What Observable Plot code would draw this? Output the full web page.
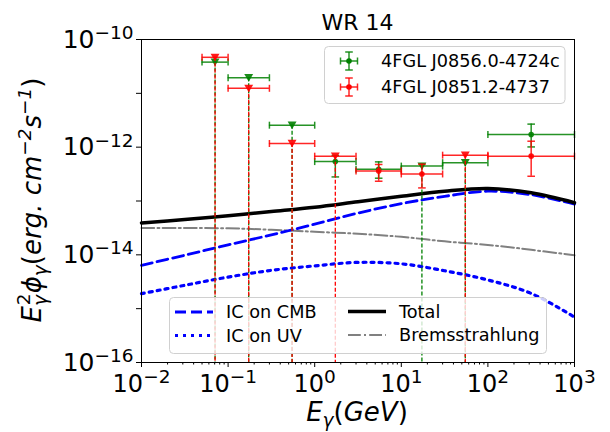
<!DOCTYPE html>
<html><head><meta charset="utf-8">
<script src="https://cdn.jsdelivr.net/npm/d3@7"></script>
<script src="https://cdn.jsdelivr.net/npm/@observablehq/plot@0.6"></script>
<style>
body{margin:0;background:#fff;}
#chart svg{font-family:"DejaVu Sans",sans-serif;}
</style>
</head><body><div id="chart"></div>
<script>
// ---------- data ----------
// Fermi-LAT energy bins (GeV)
const binLo     = [0.05, 0.1, 0.3, 1, 3, 10, 30, 100];
const binHi     = [0.1, 0.3, 1, 3, 10, 30, 100, 1000];
const binCenter = [0.0707, 0.173, 0.548, 1.73, 5.48, 17.3, 54.8, 316];

// 4FGL J0856.0-4724c (green)
const greenFlux = [3.8e-11, 1.95e-11, 2.56e-12, 5.4e-13, 3.9e-13, 4.45e-13, 5.15e-13, 1.72e-12];
const greenLow  = [null, null, null, 2.8e-13, 2.65e-13, null, null, 1.01e-12];
const greenHigh = [null, null, null, 7.0e-13, 5.33e-13, null, null, 2.68e-12];
const greenUL   = [true, true, true, false, false, true, true, false];

// 4FGL J0851.2-4737 (red)
const redFlux = [4.67e-11, 1.24e-11, 1.17e-12, 6.8e-13, 3.62e-13, 3.18e-13, 7.1e-13, 6.81e-13];
const redLow  = [null, null, null, null, 2.33e-13, 1.75e-13, null, 2.88e-13];
const redHigh = [null, null, null, null, 4.77e-13, 4.83e-13, null, 1.29e-12];
const redUL   = [true, true, true, true, false, false, true, false];

// model curves
const modelE     = [0.01, 0.0316, 0.1, 0.316, 1, 3.16, 10, 31.6, 100, 316, 1000];
const icCMB      = [6.38e-15, 9.84e-15, 1.53e-14, 2.35e-14, 3.71e-14, 5.97e-14, 8.93e-14, 1.22e-13, 1.52e-13, 1.31e-13, 8.71e-14];
const icUV       = [1.90e-15, 2.72e-15, 3.86e-15, 5.15e-15, 6.24e-15, 7.24e-15, 6.81e-15, 5.06e-15, 3.41e-15, 1.92e-15, 6.97e-16];
const brems      = [3.16e-14, 3.15e-14, 3.11e-14, 2.92e-14, 2.68e-14, 2.46e-14, 2.16e-14, 1.78e-14, 1.53e-14, 1.24e-14, 9.8e-15];
const total      = [3.91e-14, 4.54e-14, 5.32e-14, 6.37e-14, 7.66e-14, 9.68e-14, 1.22e-13, 1.52e-13, 1.71e-13, 1.42e-13, 9.3e-14];

// axis ticks
const xDecades = [1e-2, 1e-1, 1e0, 1e1, 1e2, 1e3];
const yDecades = [1e-16, 1e-15, 1e-14, 1e-13, 1e-12, 1e-11, 1e-10];
const yLabeled = [-16, -14, -12, -10];

const titleText = "WR 14";
const legendSources = ["4FGL J0856.0-4724c", "4FGL J0851.2-4737"];
const legendModels = ["IC on CMB", "IC on UV", "Total", "Bremsstrahlung"];

// ---------- tables ----------
const GREEN = "#008000", RED = "#ff0000", BLUE = "#0000ff", GRAY = "#808080";
function rowsFor(flux, lo, hi, ul, color) {
  return binCenter.map((c, i) => ({x: c, xlo: binLo[i], xhi: binHi[i], y: flux[i], ylo: lo[i], yhi: hi[i], ul: ul[i], color}));
}
const greenRows = rowsFor(greenFlux, greenLow, greenHigh, greenUL, GREEN);
const redRows = rowsFor(redFlux, redLow, redHigh, redUL, RED);
const model = modelE.map((e, i) => ({e, cmb: icCMB[i], uv: icUV[i], br: brems[i], tot: total[i]}));
const minorX = xDecades.slice(0, -1).flatMap(d => [2,3,4,5,6,7,8,9].map(m => m * d));
const yMin = yDecades[0];

// custom symbols
const triDown = {draw(ctx, size) { const r = Math.sqrt(size / Math.PI); ctx.moveTo(-1.35*r, -1.1*r); ctx.lineTo(1.35*r, -1.1*r); ctx.lineTo(0, 1.2*r); ctx.closePath(); }};
const vCap = {draw(ctx, size) { const r = Math.sqrt(size / Math.PI); ctx.moveTo(0, -r); ctx.lineTo(0, r); }};
const hCap = {draw(ctx, size) { const r = Math.sqrt(size / Math.PI); ctx.moveTo(-r, 0); ctx.lineTo(r, 0); }};

function seriesMarks(rows) {
  const det = rows.filter(d => !d.ul);
  const ul = rows.filter(d => d.ul);
  const c = rows[0].color;
  const op = 0.85;
  return [
    Plot.ruleX(ul, {x: "x", y1: "y", y2: () => yMin, stroke: c, strokeWidth: 1.3, strokeDasharray: "4,2"}),
    Plot.ruleY(rows, {y: "y", x1: "xlo", x2: "xhi", stroke: c, strokeWidth: 1.5, strokeOpacity: op}),
    Plot.dot(rows, {x: "xlo", y: "y", symbol: vCap, r: 3.5, stroke: c, fill: "none", strokeWidth: 1.5, strokeOpacity: op}),
    Plot.dot(rows, {x: "xhi", y: "y", symbol: vCap, r: 3.5, stroke: c, fill: "none", strokeWidth: 1.5, strokeOpacity: op}),
    Plot.ruleX(det, {x: "x", y1: "ylo", y2: "yhi", stroke: c, strokeWidth: 1.5, strokeOpacity: op}),
    Plot.dot(det, {x: "x", y: "ylo", symbol: hCap, r: 3.8, stroke: c, fill: "none", strokeWidth: 1.5, strokeOpacity: op}),
    Plot.dot(det, {x: "x", y: "yhi", symbol: hCap, r: 3.8, stroke: c, fill: "none", strokeWidth: 1.5, strokeOpacity: op}),
    Plot.dot(ul, {x: "x", y: "y", symbol: triDown, r: 3.3, fill: c, stroke: "none", fillOpacity: 0.9}),
    Plot.dot(det, {x: "x", y: "y", r: 2.8, fill: c, stroke: "none", fillOpacity: 0.9})
  ];
}

const supFmt = e => "10^" + (e < 0 ? "\u2212" + (-e) : String(e));

const plot = Plot.plot({
  width: 610, height: 432,
  marginLeft: 141, marginRight: 36, marginTop: 39, marginBottom: 70,
  style: {fontFamily: "DejaVu Sans", background: "white", color: "black"},
  x: {type: "log", domain: [xDecades[0], xDecades[xDecades.length-1]]},
  y: {type: "log", domain: [yDecades[0], yDecades[yDecades.length-1]]},
  marks: [
    Plot.line(model, {x: "e", y: "br", stroke: GRAY, strokeWidth: 2, strokeDasharray: "12.8,3.2,2,3.2", curve: "catmull-rom"}),
    Plot.line(model, {x: "e", y: "uv", stroke: BLUE, strokeWidth: 3.2, strokeDasharray: "3,5", curve: "catmull-rom"}),
    Plot.line(model, {x: "e", y: "cmb", stroke: BLUE, strokeWidth: 2.8, strokeDasharray: "11,5", curve: "catmull-rom"}),
    Plot.line(model, {x: "e", y: "tot", stroke: "black", strokeWidth: 3.5, curve: "catmull-rom"}),
    ...seriesMarks(greenRows),
    ...seriesMarks(redRows),
    Plot.frame({stroke: "black", strokeWidth: 1}),
    Plot.axisX({ticks: minorX, tickSize: 2.5, tickFormat: () => "", label: null}),
    Plot.axisX({ticks: xDecades, tickSize: 5, tickPadding: 7, fontSize: 24, label: null,
      tickFormat: d => supFmt(Math.round(Math.log10(d)))}),
    Plot.axisY({ticks: yDecades, tickSize: 5, tickPadding: 3, fontSize: 25, label: null,
      tickFormat: d => { const e = Math.round(Math.log10(d)); return yLabeled.includes(e) ? supFmt(e) : ""; }})
  ]
});
document.getElementById("chart").appendChild(plot);

const svg = d3.select(plot);
// superscripts in tick labels
svg.selectAll("text").each(function() {
  const t = this.textContent;
  if (!t.includes("^")) return;
  const [b, e] = t.split("^");
  const s = d3.select(this);
  s.text("");
  s.append("tspan").text(b);
  s.append("tspan").attr("font-size", "18.5px").attr("dy", "-8.5px").text(e);
});

// title
svg.append("text").attr("x", 357.5).attr("y", 30).attr("text-anchor", "middle")
  .attr("font-size", 22).attr("fill", "black").text(titleText);

// x label
const xl = svg.append("text").attr("x", 357).attr("y", 421).attr("text-anchor", "middle").attr("font-size", 26).attr("fill", "black");
xl.append("tspan").attr("font-style", "italic").text("E");
xl.append("tspan").attr("font-style", "italic").attr("font-size", 18.5).attr("dy", 6).text("γ");
xl.append("tspan").attr("dy", -6).text("(");
xl.append("tspan").attr("font-style", "italic").text("GeV");
xl.append("tspan").text(")");

// y label
const yl = svg.append("text").attr("transform", "translate(41,200) rotate(-90)").attr("text-anchor", "middle").attr("font-size", 26).attr("fill", "black");
yl.append("tspan").attr("font-style", "italic").text("E");
yl.append("tspan").attr("font-style", "italic").attr("font-size", 18.5).attr("dy", 6).text("γ");
yl.append("tspan").attr("font-size", 18.5).attr("dx", -10).attr("dy", -17).text("2");
yl.append("tspan").attr("font-style", "italic").attr("dy", 11).text("ϕ");
yl.append("tspan").attr("font-style", "italic").attr("font-size", 18.5).attr("dy", 6).text("γ");
yl.append("tspan").attr("dy", -6).text("(");
yl.append("tspan").attr("font-style", "italic").text("erg. cm");
yl.append("tspan").attr("font-style", "italic").attr("font-size", 18.5).attr("dy", -10).text("\u22122");
yl.append("tspan").attr("font-style", "italic").attr("dy", 10).text("s");
yl.append("tspan").attr("font-style", "italic").attr("font-size", 18.5).attr("dy", -10).text("\u22121");
yl.append("tspan").attr("dy", 10).text(")");

// legend 1 (sources)
const lg1 = svg.append("g").attr("text-anchor", "start");
lg1.append("rect").attr("x", 324.5).attr("y", 46.5).attr("width", 240.5).attr("height", 57).attr("rx", 4)
  .attr("fill", "white").attr("fill-opacity", 0.8).attr("stroke", "#d0d0d0").attr("stroke-width", 1);
[[GREEN, 61, legendSources[0]], [RED, 87, legendSources[1]]].forEach(([c, cy, label]) => {
  const cx = 349;
  const g = lg1.append("g").attr("stroke", c).attr("stroke-width", 1.5).attr("stroke-opacity", 0.85);
  g.append("line").attr("x1", cx - 8.5).attr("x2", cx + 8.5).attr("y1", cy).attr("y2", cy);
  g.append("line").attr("x1", cx - 8.5).attr("x2", cx - 8.5).attr("y1", cy - 3.5).attr("y2", cy + 3.5);
  g.append("line").attr("x1", cx + 8.5).attr("x2", cx + 8.5).attr("y1", cy - 3.5).attr("y2", cy + 3.5);
  g.append("line").attr("x1", cx).attr("x2", cx).attr("y1", cy - 9).attr("y2", cy + 9);
  g.append("line").attr("x1", cx - 3.8).attr("x2", cx + 3.8).attr("y1", cy - 9).attr("y2", cy - 9);
  g.append("line").attr("x1", cx - 3.8).attr("x2", cx + 3.8).attr("y1", cy + 9).attr("y2", cy + 9);
  lg1.append("circle").attr("cx", cx).attr("cy", cy).attr("r", 2.8).attr("fill", c);
  lg1.append("text").attr("x", 381).attr("y", cy + 6.3).attr("font-size", 17.7).attr("fill", "black").text(label);
});

// legend 2 (models)
const lg2 = svg.append("g").attr("text-anchor", "start");
lg2.append("rect").attr("x", 169.5).attr("y", 297.5).attr("width", 377).attr("height", 56).attr("rx", 4)
  .attr("fill", "white").attr("fill-opacity", 0.8).attr("stroke", "#d0d0d0").attr("stroke-width", 1);
const items = [
  {x: 175, y: 312, label: legendModels[0], stroke: BLUE, w: 2.8, dash: "11,5"},
  {x: 175, y: 335.5, label: legendModels[1], stroke: BLUE, w: 3.2, dash: "3,5"},
  {x: 348, y: 311.5, label: legendModels[2], stroke: "black", w: 3.5, dash: null},
  {x: 348, y: 335, label: legendModels[3], stroke: GRAY, w: 2, dash: "12.8,3.2,2,3.2"}
];
items.forEach(it => {
  lg2.append("line").attr("x1", it.x).attr("x2", it.x + 38).attr("y1", it.y).attr("y2", it.y)
    .attr("stroke", it.stroke).attr("stroke-width", it.w).attr("stroke-dasharray", it.dash);
  lg2.append("text").attr("x", it.x + 51).attr("y", it.y + 6.3).attr("font-size", 17.7).attr("fill", "black").text(it.label);
});
</script>
</body></html>
